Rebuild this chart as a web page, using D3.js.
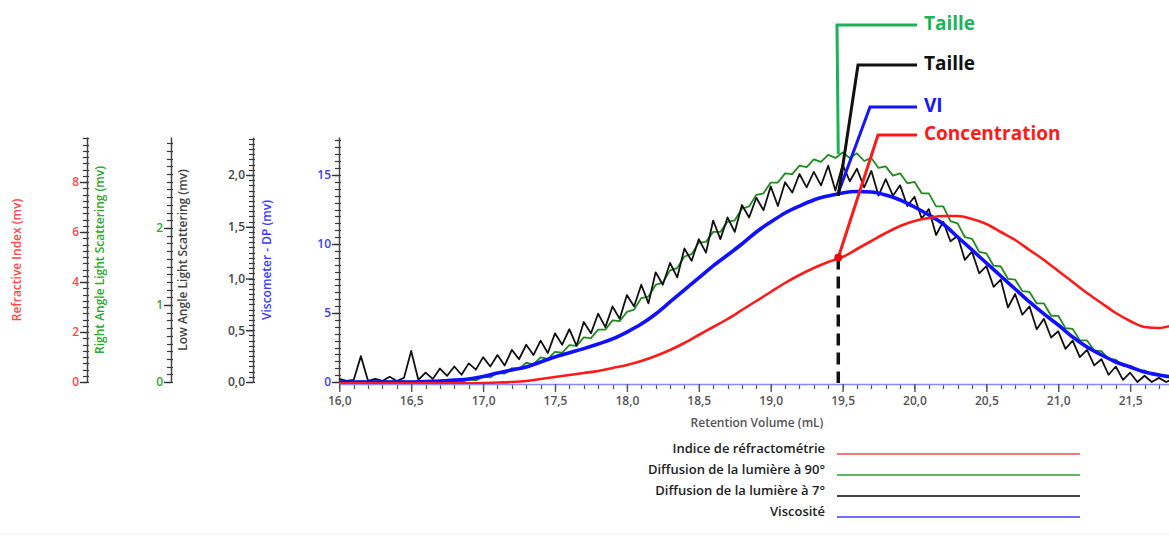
<!DOCTYPE html>
<html><head><meta charset="utf-8">
<script src="https://cdn.jsdelivr.net/npm/d3@7"></script>
<style>body{margin:0;background:#fff}svg{display:block}text{font-family:"Open Sans",sans-serif}</style>
</head><body><svg id="c" width="1169" height="540"></svg>
<script>
// ---------- DATA ----------
const volumes = [16.0,16.1,16.2,16.3,16.4,16.5,16.6,16.7,16.8,16.9,17.0,17.1,17.2,17.3,17.4,17.5,17.6,17.7,17.8,17.9,
  18.0,18.1,18.2,18.3,18.4,18.5,18.6,18.7,18.8,18.9,19.0,19.1,19.2,19.3,19.4,19.5,19.6,19.7,19.8,19.9,
  20.0,20.1,20.2,20.3,20.4,20.5,20.6,20.7,20.8,20.9,21.0,21.1,21.2,21.3,21.4,21.5,21.6,21.7,21.8];
const refractiveIndex = [-0.05,-0.05,-0.05,-0.05,-0.05,-0.05,-0.05,-0.05,-0.05,-0.05,
  -0.04,-0.02,0,0.04,0.12,0.20,0.28,0.36,0.44,0.56,
  0.68,0.84,1.04,1.28,1.56,1.88,2.20,2.52,2.88,3.24,
  3.60,3.96,4.28,4.56,4.80,5.00,5.32,5.64,5.96,6.24,
  6.44,6.56,6.64,6.64,6.52,6.32,6.00,5.68,5.28,4.88,
  4.44,4.00,3.56,3.16,2.76,2.44,2.20,2.16,2.28];
const viscometerDP = [0,0,0,0,0,0,0.04,0.07,0.14,0.22,
  0.40,0.65,0.87,1.09,1.45,1.81,2.12,2.42,2.75,3.12,
  3.62,4.20,4.93,5.80,6.67,7.54,8.41,9.20,10.0,10.87,
  11.59,12.25,12.75,13.19,13.48,13.70,13.80,13.77,13.55,13.19,
  12.68,12.10,11.45,10.51,9.57,8.62,7.68,6.74,5.80,4.93,
  4.13,3.26,2.54,1.96,1.45,1.09,0.72,0.51,0.36];
const volumesFine = [16.00,16.05,16.10,16.15,16.20,16.25,16.30,16.35,16.40,16.45,
  16.50,16.55,16.60,16.65,16.70,16.75,16.80,16.85,16.90,16.95,
  17.00,17.05,17.10,17.15,17.20,17.25,17.30,17.35,17.40,17.45,
  17.50,17.55,17.60,17.65,17.70,17.75,17.80,17.85,17.90,17.95,
  18.00,18.05,18.10,18.15,18.20,18.25,18.30,18.35,18.40,18.45,
  18.50,18.55,18.60,18.65,18.70,18.75,18.80,18.85,18.90,18.95,
  19.00,19.05,19.10,19.15,19.20,19.25,19.30,19.35,19.40,19.45,
  19.50,19.55,19.60,19.65,19.70,19.75,19.80,19.85,19.90,19.95,
  20.00,20.05,20.10,20.15,20.20,20.25,20.30,20.35,20.40,20.45,
  20.50,20.55,20.60,20.65,20.70,20.75,20.80,20.85,20.90,20.95,
  21.00,21.05,21.10,21.15,21.20,21.25,21.30,21.35,21.40,21.45,
  21.50,21.55,21.60,21.65,21.70,21.75,21.80];
const rightAngleLS = [0,0.01,0,0.01,0,0.01,0,0.01,0,0.01,
  0,0.01,0,0.01,0,0.01,0.01,0,0.03,0.02,
  0.07,0.06,0.12,0.11,0.18,0.17,0.25,0.23,0.32,0.30,
  0.39,0.38,0.48,0.47,0.58,0.57,0.68,0.68,0.80,0.79,
  0.91,0.94,1.09,1.11,1.26,1.29,1.45,1.48,1.63,1.66,
  1.81,1.82,1.95,1.95,2.08,2.10,2.25,2.28,2.43,2.45,
  2.59,2.59,2.71,2.70,2.81,2.79,2.89,2.86,2.95,2.91,
  2.98,2.91,2.97,2.87,2.91,2.78,2.80,2.68,2.71,2.58,
  2.60,2.45,2.45,2.28,2.28,2.09,2.06,1.88,1.86,1.69,
  1.67,1.51,1.50,1.34,1.33,1.18,1.17,1.02,1.02,0.86,
  0.86,0.70,0.69,0.54,0.54,0.41,0.40,0.30,0.29,0.21,
  0.21,0.15,0.15,0.10,0.10,0.06,0.06];
const lowAngleLS = [0.03,0.01,0.02,0.25,0.01,0.03,0.01,0.05,0.01,0.04,
  0.30,0.02,0.09,0.03,0.13,0.06,0.15,0.07,0.18,0.12,
  0.24,0.15,0.26,0.16,0.31,0.22,0.36,0.26,0.40,0.28,
  0.47,0.36,0.51,0.35,0.58,0.47,0.66,0.53,0.73,0.61,
  0.84,0.73,0.94,0.76,1.06,0.94,1.15,1.01,1.29,1.17,
  1.38,1.25,1.56,1.38,1.59,1.45,1.71,1.59,1.78,1.66,
  1.89,1.70,1.93,1.83,2.01,1.88,2.03,1.90,2.09,1.85,
  2.10,1.94,2.06,1.88,2.04,1.80,1.96,1.80,1.90,1.70,
  1.79,1.58,1.67,1.42,1.55,1.36,1.41,1.18,1.26,1.05,
  1.12,0.92,0.99,0.72,0.85,0.65,0.73,0.51,0.61,0.43,
  0.49,0.32,0.40,0.24,0.31,0.16,0.22,0.07,0.15,0.02,
  0.09,0.00,0.06,0.00,0.04,0.00,0.03];

const xTicks = [16.0,16.5,17.0,17.5,18.0,18.5,19.0,19.5,20.0,20.5,21.0,21.5];
const redTicks = [0,2,4,6,8];
const greenTicks = [0,1,2];
const blackTicks = [0,0.5,1.0,1.5,2.0];
const blueTicks = [0,5,10,15];

const legendLabels = ["Indice de réfractométrie","Diffusion de la lumière à 90°","Diffusion de la lumière à 7°","Viscosité"];
const legendColors = ["#f07878","#5cb85c","#444444","#6f6fff"];

const markerVolume = 19.47;
const calloutLabels = ["Taille","Taille","VI","Concentration"];
const calloutValues = [2.96, 1.80, 13.7, 4.98];

// ---------- LAYOUT ----------
const svg = d3.select('#c');
const Y0 = 382, YTOP = 137;
const x = d3.scaleLinear().domain([16, 21.77]).range([339.3, 1169]);
const yRed = d3.scaleLinear().domain([0, 8]).range([Y0, 182]);
const yGreen = d3.scaleLinear().domain([0, 2]).range([Y0, 228]);
const yBlack = d3.scaleLinear().domain([0, 2]).range([Y0, 175]);
const yBlue = d3.scaleLinear().domain([0, 15]).range([Y0, 175]);

const comma = (d, dec) => d.toFixed(dec).replace('.', ',');

function vAxis(ax, scale, ticks, minorStep, fmt, color, title, titleX) {
  const top = scale.invert(YTOP);
  const s = scale.copy().domain([0, top]).range([Y0, YTOP]);
  const g = svg.append('g').attr('transform', `translate(${Math.round(ax)},0)`);
  g.selectAll('line.minor').data(d3.range(0, top, minorStep)).join('line')
    .attr('class', 'minor')
    .attr('x1', -4).attr('x2', 2)
    .attr('y1', d => Math.round(s(d)) + 0.5).attr('y2', d => Math.round(s(d)) + 0.5)
    .attr('stroke', '#333').attr('stroke-width', 1.2);
  const m = g.append('g').call(d3.axisLeft(s).tickValues(ticks).tickSize(7).tickSizeOuter(0).tickFormat(fmt));
  m.select('.domain').attr('stroke', '#444').attr('stroke-width', 1.5);
  m.selectAll('line').attr('stroke', '#333').attr('stroke-width', 1.4);
  m.selectAll('text').attr('fill', color).attr('font-size', 12).attr('font-weight', 600)
    .attr('font-family', '"Open Sans",sans-serif').attr('x', -8);
  svg.append('text').attr('transform', `translate(${titleX},260) rotate(-90)`)
    .attr('text-anchor', 'middle').attr('dominant-baseline', 'middle')
    .attr('font-size', 12).attr('font-weight', 600).attr('fill', color).text(title);
}

vAxis(87, yRed, redTicks, 0.25, d => d, '#ff4a4a', 'Refractive Index (mv)', 18);
vAxis(171, yGreen, greenTicks, 0.1, d => d, '#2ea82e', 'Right Angle Light Scattering (mv)', 101);
vAxis(253, yBlack, blackTicks, 0.05, d => comma(d, 1), '#444', 'Low Angle Light Scattering (mv)', 184);
vAxis(339.3, yBlue, blueTicks, 0.5, d => d, '#3b3bff', 'Viscometer - DP (mv)', 268);

// x axis
const xg = svg.append('g').attr('transform', `translate(0,${Y0 + 2})`);
xg.selectAll('line.minor').data(d3.range(16, 21.8, 0.1)).join('line')
  .attr('class', 'minor')
  .attr('x1', d => Math.round(x(d)) + 0.5).attr('x2', d => Math.round(x(d)) + 0.5)
  .attr('y1', 0).attr('y2', 5).attr('stroke', '#555').attr('stroke-width', 1.2);
const xm = xg.append('g').call(d3.axisBottom(x).tickValues(xTicks).tickSize(8).tickSizeOuter(0).tickFormat(d => comma(d, 1)));
xm.select('.domain').attr('stroke', '#8a8aff').attr('stroke-width', 1.6);
xm.selectAll('line').attr('stroke', '#555').attr('stroke-width', 1.4);
xm.selectAll('text').attr('fill', '#555').attr('font-size', 12).attr('font-weight', 600)
  .attr('font-family', '"Open Sans",sans-serif').attr('dy', '0.85em');
svg.append('text').attr('x', 757).attr('y', 427).attr('text-anchor', 'middle')
  .attr('font-size', 12).attr('font-weight', 600).attr('fill', '#555').text('Retention Volume (mL)');

// curves
svg.append('clipPath').attr('id', 'pc').append('rect')
  .attr('x', 339.3).attr('y', 0).attr('width', 830).attr('height', Y0 + 2);
function curve(xs, ys, scale, color, w, smooth) {
  const line = d3.line().x((d, i) => x(xs[i])).y(d => scale(d));
  if (smooth) line.curve(d3.curveMonotoneX);
  svg.append('path').datum(ys).attr('d', line).attr('fill', 'none')
    .attr('stroke', color).attr('stroke-width', w).attr('stroke-linejoin', 'round')
    .attr('clip-path', 'url(#pc)');
}
curve(volumesFine, rightAngleLS, yGreen, '#1e8c1e', 1.8, false);
curve(volumesFine, lowAngleLS, yBlack, '#111', 1.8, false);
curve(volumes, viscometerDP, yBlue, '#1010ff', 3.6, true);
curve(volumes, refractiveIndex, yRed, '#ff1a1a', 2.6, true);

// dashed marker
const mx = x(markerVolume);
svg.append('line').attr('x1', mx).attr('x2', mx).attr('y1', yRed(calloutValues[3])).attr('y2', Y0 + 1)
  .attr('stroke', '#111').attr('stroke-width', 3.5).attr('stroke-dasharray', '12,7');

// callouts
const calloutColors = ['#1db25a', '#111', '#1414ff', '#ff1a1a'];
const calloutScales = [yGreen, yBlack, yBlue, yRed];
const elbows = [[837, 25], [858, 65], [870, 107], [878, 135]];
[3, 2, 1, 0].forEach(i => {
  const sy = calloutScales[i](calloutValues[i]);
  const [ex, ey] = elbows[i];
  svg.append('path').attr('d', `M${mx},${sy}L${ex},${ey}L917,${ey}`)
    .attr('fill', 'none').attr('stroke', calloutColors[i]).attr('stroke-width', 3);
  svg.append('text').attr('x', 924).attr('y', ey).attr('dominant-baseline', 'middle')
    .attr('font-size', 19).attr('font-weight', 700).attr('fill', calloutColors[i]).text(calloutLabels[i]);
});
svg.append('circle').attr('cx', mx).attr('cy', yRed(calloutValues[3])).attr('r', 4).attr('fill', '#e01010');

// legend
legendLabels.forEach((lab, i) => {
  const ly = 454 + i * 21;
  svg.append('text').attr('x', 825).attr('y', ly - 1).attr('text-anchor', 'end')
    .attr('font-size', 13).attr('font-weight', 600).attr('fill', '#222').text(lab);
  svg.append('line').attr('x1', 837).attr('x2', 1080).attr('y1', ly).attr('y2', ly)
    .attr('stroke', legendColors[i]).attr('stroke-width', 2);
});
svg.append('line').attr('x1', 0).attr('x2', 1169).attr('y1', 534).attr('y2', 534).attr('stroke', '#eee');
</script></body></html>
